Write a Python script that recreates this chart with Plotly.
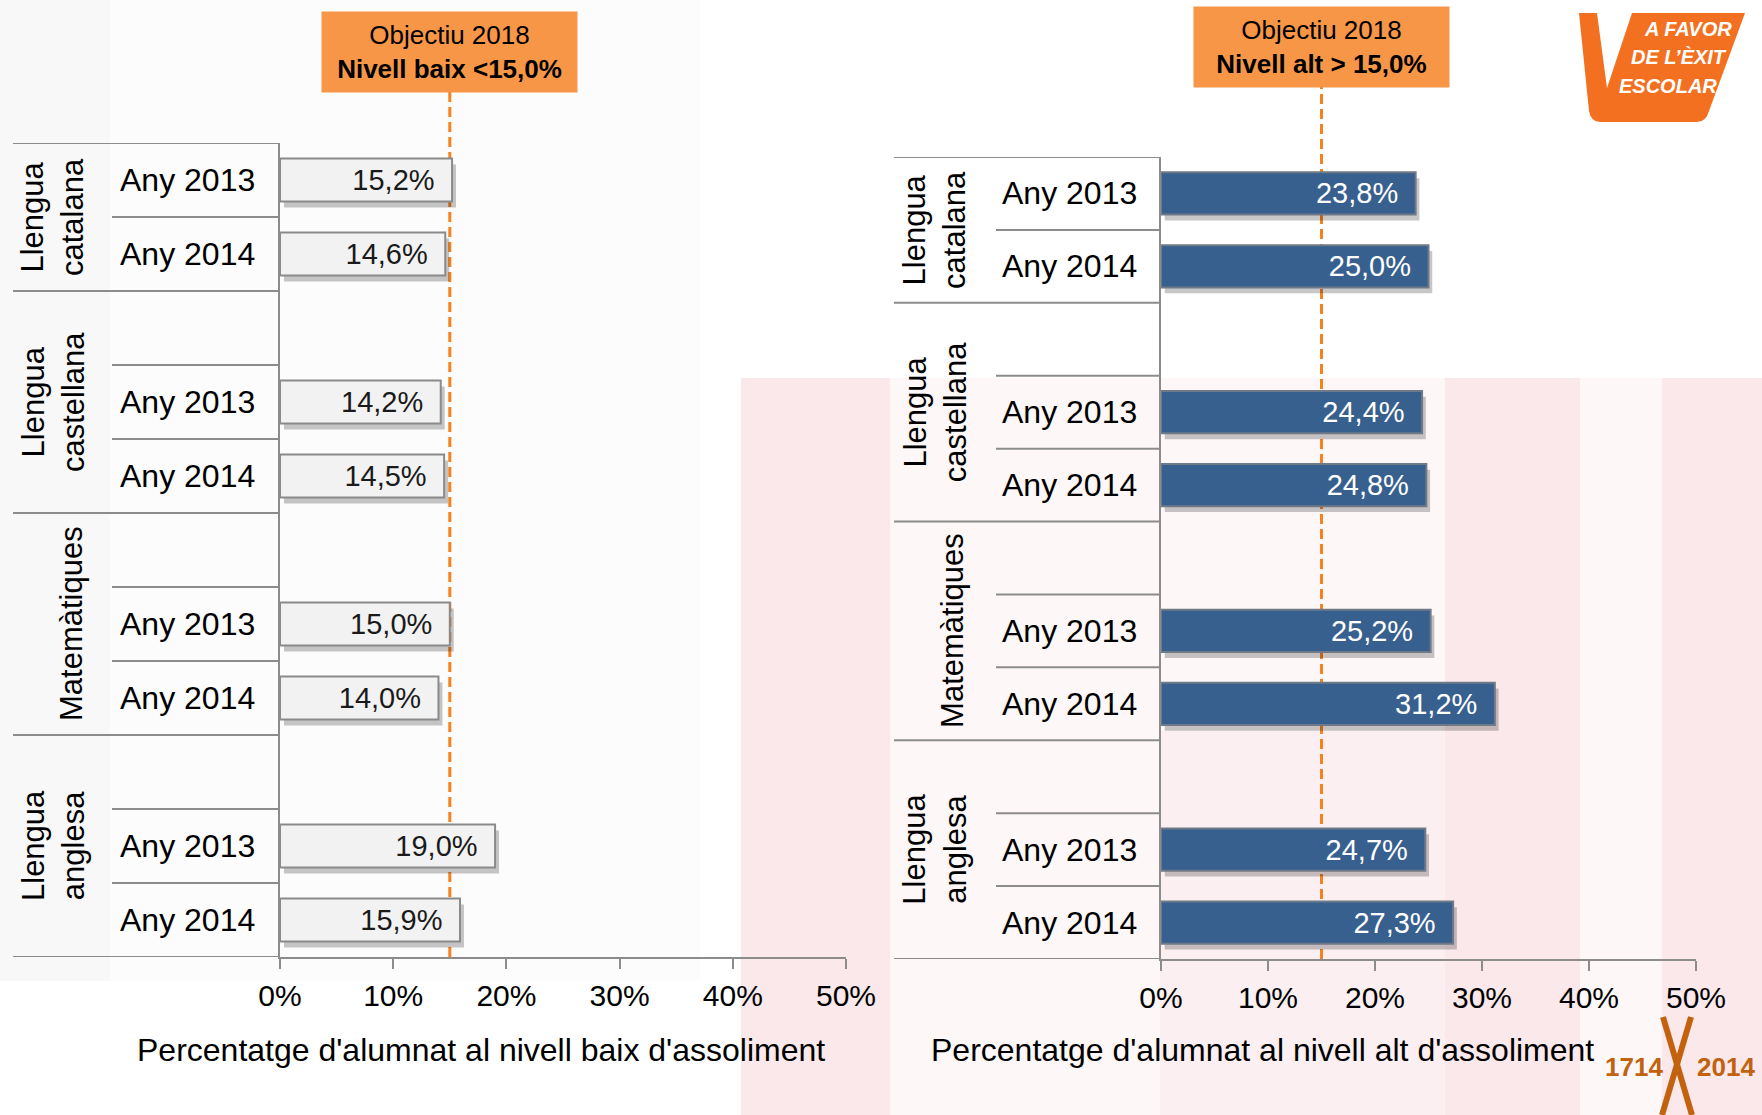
import plotly.graph_objects as go

W, H = 1762, 1115

# ---------------- data ----------------
categories = ["Llengua<br>catalana", "Llengua<br>castellana", "Matemàtiques", "Llengua<br>anglesa"]
years = ["Any 2013", "Any 2014"]
low_2013 = [15.2, 14.2, 15.0, 19.0]
low_2014 = [14.6, 14.5, 14.0, 15.9]
high_2013 = [23.8, 24.4, 25.2, 24.7]
high_2014 = [25.0, 24.8, 31.2, 27.3]
objective = 15.0
x_ticks = [0, 10, 20, 30, 40, 50]
x_ticktext = ["0%", "10%", "20%", "30%", "40%", "50%"]
x_title_low = "Percentatge d'alumnat al nivell baix d'assoliment"
x_title_high = "Percentatge d'alumnat al nivell alt d'assoliment"
box_low = "Objectiu 2018<br><b>Nivell baix &lt;15,0%</b>"
box_high = "Objectiu 2018<br><b>Nivell alt &gt; 15,0%</b>"

# ---------------- helpers ----------------
def px(x):
    return x / W

def py(y):
    return 1 - y / H

FONT = "Liberation Sans, Arial, sans-serif"
LINE = "#8c8c8c"
ORANGE_LINE = "#f5821f"
BOX = "#f79646"

# slot layout: group g occupies slots 3g, 3g+1 (blank slot 3g-1 above for g>=1)
slots, vals_low, vals_high, ylabels = [], [], [], []
for g in range(len(categories)):
    for j, yr in enumerate(years):
        slots.append(3 * g + j)
        ylabels.append(yr)
        vals_low.append(low_2013[g] if j == 0 else low_2014[g])
        vals_high.append(high_2013[g] if j == 0 else high_2014[g])

BW = 0.58
panels = [
    dict(vals=vals_low, xa="x", ya="y", fill="#f2f2f2", edge="#8a8a8a", tcol="#1a1a1a",
         xdom=[px(280), px(846)], ydom=[py(957), py(143)],
         cat=(13, 112), yr=(112, 280), yr_text=118, cat2=53, cat1=71,
         title=x_title_low, title_x=px(481), box=box_low, box_bottom=92, box_y=py(52)),
    dict(vals=vals_high, xa="x2", ya="y2", fill="#37608f", edge="#6f7a88", tcol="#ffffff",
         xdom=[px(1161), px(1696)], ydom=[py(959), py(157)],
         cat=(894, 996), yr=(996, 1161), yr_text=1000, cat2=935, cat1=953,
         title=x_title_high, title_x=px(1262), box=box_high, box_bottom=87, box_y=py(47)),
]

fig = go.Figure()
shapes, annotations = [], []

# faint background watermark tones
def bg_rect(x0, x1, y0, y1, color):
    shapes.append(dict(type="rect", xref="paper", yref="paper", x0=px(x0), x1=px(x1), y0=py(y1), y1=py(y0),
                       fillcolor=color, line_width=0, layer="below"))

bg_rect(0, 700, 0, 981, "rgba(0,0,0,0.012)")
bg_rect(0, 110, 0, 981, "rgba(0,0,0,0.015)")
bg_rect(741, 1762, 378, 1115, "rgba(225,90,110,0.05)")
bg_rect(741, 890, 378, 1115, "rgba(225,90,110,0.09)")
bg_rect(1445, 1580, 378, 1115, "rgba(225,90,110,0.09)")
bg_rect(1662, 1762, 378, 1115, "rgba(225,90,110,0.09)")
bg_rect(1160, 1445, 731, 1115, "rgba(225,90,110,0.05)")

for p in panels:
    # shadow
    fig.add_trace(go.Bar(
        y=slots, x=p["vals"], base=0.35, orientation="h", width=BW, offset=-BW / 2 + 0.08,
        marker=dict(color="rgba(0,0,0,0.22)", line_width=0),
        xaxis=p["xa"], yaxis=p["ya"], hoverinfo="skip", showlegend=False))
    # main bars
    fig.add_trace(go.Bar(
        y=slots, x=p["vals"], orientation="h", width=BW,
        marker=dict(color=p["fill"], line=dict(color=p["edge"], width=2)),
        texttemplate="%{x:.1f}%\u2002", textposition="inside", insidetextanchor="end",
        textfont=dict(family=FONT, size=29, color=p["tcol"]), textangle=0,
        constraintext="none", cliponaxis=False,
        xaxis=p["xa"], yaxis=p["ya"], showlegend=False))

    ax = p["xa"].replace("x", "xaxis")
    ay = p["ya"].replace("y", "yaxis")
    fig.layout[ax] = dict(domain=p["xdom"], range=[0, 50], anchor=p["ya"], tickmode="array",
                          tickvals=x_ticks, ticktext=x_ticktext, ticks="outside", ticklen=10,
                          tickwidth=2, tickcolor=LINE, automargin=False,
                          showline=True, linecolor=LINE, linewidth=2, showgrid=False, zeroline=False,
                          tickfont=dict(family=FONT, size=30, color="#000"), ticklabelstandoff=1,
                          fixedrange=True)
    fig.layout[ay] = dict(domain=p["ydom"], range=[10.5, -0.5], anchor=p["xa"], showline=True,
                          linecolor=LINE, linewidth=2, showticklabels=False, ticks="", automargin=False,
                          showgrid=False, zeroline=False, fixedrange=True)

    # table lines
    c0, c1 = p["cat"]
    y0_, y1_ = p["yr"]
    for b in [-0.5, 1.5, 4.5, 7.5, 10.5]:
        shapes.append(dict(type="line", xref="paper", yref=p["ya"], x0=px(c0), x1=px(y1_), y0=b, y1=b,
                           line=dict(color=LINE, width=2)))
    for b in [0.5, 2.5, 3.5, 5.5, 6.5, 8.5, 9.5]:
        shapes.append(dict(type="line", xref="paper", yref=p["ya"], x0=px(y0_), x1=px(y1_), y0=b, y1=b,
                           line=dict(color=LINE, width=2)))

    # year labels
    for s, lab in zip(slots, ylabels):
        annotations.append(dict(xref="paper", yref=p["ya"], x=px(p["yr_text"]), y=s, text=lab,
                                xanchor="left", yanchor="middle", showarrow=False,
                                font=dict(family=FONT, size=32, color="#000")))
    # category labels
    for g, cat in enumerate(categories):
        yc = 0.5 if g == 0 else 3 * g
        xc = p["cat2"] if "<br>" in cat else p["cat1"]
        annotations.append(dict(xref="paper", yref=p["ya"], x=px(xc), y=yc, text=cat, textangle=-90,
                                xanchor="center", yanchor="middle", showarrow=False,
                                font=dict(family=FONT, size=31, color="#000")))

    # objective dashed line
    shapes.append(dict(type="line", xref=p["xa"], yref="paper", x0=objective, x1=objective,
                       y0=p["ydom"][0], y1=py(p["box_bottom"]), layer="below",
                       line=dict(color=ORANGE_LINE, width=3, dash="10px,5px")))
    # objective box
    annotations.append(dict(xref=p["xa"], yref="paper", x=objective, y=p["box_y"], text=p["box"],
                            showarrow=False, bgcolor=BOX, width=249, height=74, borderpad=3,
                            xanchor="center", yanchor="middle",
                            font=dict(family=FONT, size=26, color="#000")))
    # axis title
    annotations.append(dict(xref="paper", yref="paper", x=p["title_x"], y=py(1050), text=p["title"],
                            showarrow=False, xanchor="center", yanchor="middle",
                            font=dict(family=FONT, size=32, color="#000")))

# ---- logo top-right ----
logo_path = ("M {a},{b} L {c},{b} L {d},{e} L {f},{b} L {g},{b} L {h},{i} Q {j},{k} {l},{k} "
             "L {m},{k} Q {n},{k} {o},{i} Z").format(
    a=px(1579), b=py(13), c=px(1597), d=px(1607), e=py(88), f=px(1632), g=px(1745),
    h=px(1709), i=py(111), j=px(1706), k=py(122), l=px(1697), m=px(1600), n=px(1591), o=px(1589))
shapes.append(dict(type="path", xref="paper", yref="paper", path=logo_path,
                   fillcolor="#f37021", line_width=0))
for txt, xx, yy in [("A FAVOR", 1688, 29), ("DE L’ÈXIT", 1679, 57), ("ESCOLAR", 1668, 86)]:
    annotations.append(dict(xref="paper", yref="paper", x=px(xx), y=py(yy), text="<b><i>" + txt + "</i></b>",
                            showarrow=False, xanchor="center", yanchor="middle",
                            font=dict(family=FONT, size=20, color="#ffffff")))

# ---- logo bottom-right 1714 X 2014 ----
BROWN = "#c2620f"
shapes.append(dict(type="line", xref="paper", yref="paper", x0=px(1663), y0=py(1017), x1=px(1692), y1=py(1115),
                   line=dict(color=BROWN, width=6)))
shapes.append(dict(type="line", xref="paper", yref="paper", x0=px(1691), y0=py(1017), x1=px(1662), y1=py(1115),
                   line=dict(color=BROWN, width=6)))
annotations.append(dict(xref="paper", yref="paper", x=px(1634), y=py(1067), text="<b>1714</b>", showarrow=False,
                        xanchor="center", yanchor="middle", font=dict(family=FONT, size=26, color=BROWN)))
annotations.append(dict(xref="paper", yref="paper", x=px(1726), y=py(1067), text="<b>2014</b>", showarrow=False,
                        xanchor="center", yanchor="middle", font=dict(family=FONT, size=26, color=BROWN)))

fig.update_layout(width=W, height=H, margin=dict(l=0, r=0, t=0, b=0, pad=0, autoexpand=False),
                  paper_bgcolor="#ffffff",
                  plot_bgcolor="rgba(0,0,0,0)", barmode="overlay", separators=",.",
                  shapes=shapes, annotations=annotations, showlegend=False)

fig.write_html("out.html", config={"displayModeBar": False},
               post_script="document.body.style.margin='0px';document.body.style.overflow='hidden';")
